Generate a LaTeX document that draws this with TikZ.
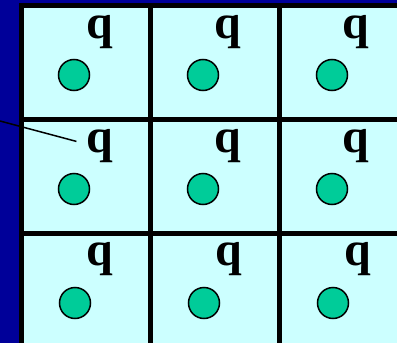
\documentclass[tikz,border=0pt]{standalone}
\usepackage{fontspec}
\setmainfont{Liberation Serif}
\usepackage{tikz}
\usetikzlibrary{arrows.meta, positioning}

\definecolor{slideblue}{HTML}{000099}
\definecolor{cellcyan}{HTML}{CCFFFF}
\definecolor{dotgreen}{HTML}{00CC99}

\begin{document}
\begin{tikzpicture}[
    x=1pt, y=-1pt,
    cell/.style={draw, line width=5pt, fill=cellcyan, minimum width=129pt, minimum height=114pt, inner sep=0pt},
    dot/.style={circle, draw, line width=1.5pt, fill=dotgreen, minimum size=31pt, inner sep=0pt},
    charge/.style={anchor=base, inner xsep=10pt, inner ysep=0pt, font=\fontsize{48}{48}\selectfont\bfseries},
    lead/.style={line width=1.5pt}
]
    \useasboundingbox (0,0) rectangle (397,343);
    \clip (0,0) rectangle (397,343);
    \fill[slideblue] (0,0) rectangle (397,343);

    % the nine cells
    \node[cell] (c11) at (85.5,62) {};
    \node[cell] (c12) at (214.5,62) {};
    \node[cell] (c13) at (343.5,62) {};
    \node[cell] (c21) at (85.5,176) {};
    \node[cell] (c22) at (214.5,176) {};
    \node[cell] (c23) at (343.5,176) {};
    \node[cell] (c31) at (85.5,290) {};
    \node[cell] (c32) at (214.5,290) {};
    \node[cell] (c33) at (343.5,290) {};

    % one particle in each cell
    \node[dot] (d11) at (74,75) {};
    \node[dot] (d12) at (203,75) {};
    \node[dot] (d13) at (332,75) {};
    \node[dot] (d21) at (74,189) {};
    \node[dot] (d22) at (203,189) {};
    \node[dot] (d23) at (332,189) {};
    \node[dot] (d31) at (75,303) {};
    \node[dot] (d32) at (204,303) {};
    \node[dot] (d33) at (333,303) {};

    \node[charge] (q11) at (100,38) {q};
    \node[charge] (q12) at (228,38) {q};
    \node[charge] (q13) at (356,38) {q};
    \node[charge] (q21) at (100,152) {q};
    \node[charge] (q22) at (228,152) {q};
    \node[charge] (q23) at (356,152) {q};
    \node[charge] (q31) at (100,265) {q};
    \node[charge] (q32) at (229,265) {q};
    \node[charge] (q33) at (358,265) {q};

    \coordinate (from) at (0,121);
    \draw[lead] (from) -- (q21.170);
\end{tikzpicture}
\end{document}
